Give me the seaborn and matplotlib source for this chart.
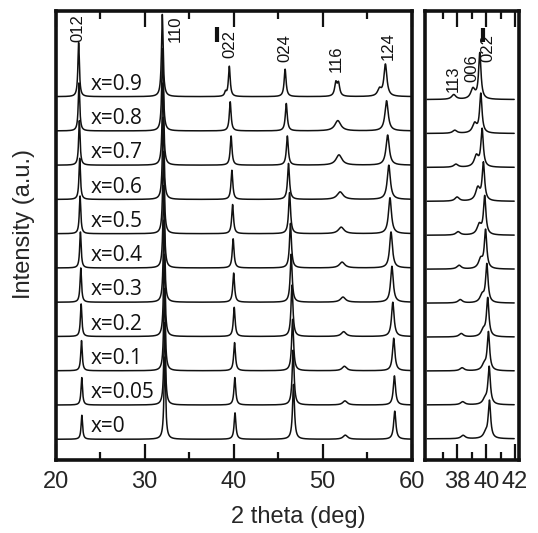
import numpy as np
import pandas as pd
import matplotlib
matplotlib.use("Agg")
import matplotlib.pyplot as plt
import seaborn as sns
from matplotlib.ticker import MultipleLocator, FixedLocator

sns.set_style("ticks")
plt.rcParams["font.family"] = ["Liberation Sans", "DejaVu Sans"]

# ---- samples, bottom to top ----
samples = ["x=0", "x=0.05", "x=0.1", "x=0.2", "x=0.3", "x=0.4",
           "x=0.5", "x=0.6", "x=0.7", "x=0.8", "x=0.9"]

# ---- wide scan (20-60 deg): position (deg), height (stack units), half width (deg) ----
pos_012 = [22.96, 22.95, 22.92, 22.88, 22.84, 22.80, 22.76, 22.72, 22.68, 22.64, 22.60]
h_012 = [0.70, 0.80, 0.88, 0.95, 1.00, 1.05, 1.10, 1.20, 1.30, 1.40, 1.58]
hw_012 = 0.10

pos_110 = [32.28, 32.26, 32.24, 32.22, 32.19, 32.16, 32.13, 32.10, 32.07, 32.03, 32.00]
h_110 = [2.40, 2.40, 2.40, 2.40, 2.40, 2.40, 2.40, 2.40, 2.40, 2.40, 2.40]
hw_110 = 0.11

pos_022 = [40.17, 40.15, 40.12, 40.08, 40.02, 39.96, 39.90, 39.82, 39.73, 39.63, 39.53]
h_022 = [0.77, 0.80, 0.82, 0.85, 0.85, 0.85, 0.85, 0.85, 0.85, 0.85, 0.88]
hw_022 = 0.12

pos_024 = [46.74, 46.70, 46.64, 46.57, 46.48, 46.40, 46.30, 46.18, 46.05, 45.93, 45.80]
h_024 = [1.60, 1.60, 1.50, 1.50, 1.40, 1.30, 1.20, 1.05, 0.85, 0.80, 0.80]
hw_024 = 0.13

pos_116 = [52.56, 52.52, 52.46, 52.38, 52.30, 52.20, 52.10, 51.98, 51.85, 51.72, 51.50]
h_116 = [0.12, 0.12, 0.13, 0.14, 0.15, 0.17, 0.19, 0.22, 0.30, 0.30, 0.38]
hw_116 = [0.30, 0.30, 0.30, 0.32, 0.34, 0.36, 0.38, 0.40, 0.40, 0.40, 0.16]

pos_124 = [58.12, 58.08, 58.00, 57.90, 57.80, 57.70, 57.58, 57.45, 57.32, 57.20, 57.07]
h_124 = [0.82, 0.85, 0.95, 1.00, 1.05, 1.05, 1.05, 1.00, 0.88, 0.88, 0.93]
hw_124 = [0.15, 0.15, 0.16, 0.17, 0.18, 0.19, 0.20, 0.21, 0.22, 0.22, 0.20]

# weak side reflections / split components of individual patterns
side_row = [10, 10, 10]
side_pos = [39.10, 51.80, 56.40]
side_h = [0.12, 0.36, 0.20]
side_hw = [0.12, 0.16, 0.25]

# ---- narrow scan (36-42 deg) ----
zpos_113 = [38.40, 38.37, 38.33, 38.27, 38.20, 38.12, 38.05, 37.98, 37.90, 37.82, 37.75]
zh_113 = [0.10, 0.09, 0.09, 0.10, 0.10, 0.11, 0.10, 0.12, 0.09, 0.09, 0.14]
zpos_006 = [39.95, 39.92, 39.86, 39.80, 39.72, 39.62, 39.52, 39.42, 39.32, 39.20, 39.08]
zh_006 = [0.14, 0.15, 0.17, 0.19, 0.22, 0.28, 0.30, 0.38, 0.33, 0.28, 0.30]
zpos_022 = [40.23, 40.21, 40.16, 40.11, 40.05, 39.96, 39.90, 39.81, 39.72, 39.63, 39.56]
zh_022 = [1.10, 1.10, 1.12, 1.12, 1.12, 1.12, 1.12, 1.10, 1.10, 1.15, 1.35]
zhw_113, zhw_006, zhw_022 = 0.18, 0.18, 0.10

# axis ticks of the narrow scan
narrow_major = [38, 40, 42]
narrow_minor = [37, 39, 41]

# reflection labels (text, position, label base height)
wide_labels = [("012", 22.55, 11.60), ("110", 33.40, 11.60), ("022", 39.55, 11.13),
               ("024", 45.80, 11.01), ("116", 51.55, 10.72), ("124", 57.37, 11.07)]
narrow_labels = [("113", 37.74, 10.23), ("006", 38.98, 10.52), ("022", 40.09, 11.10)]


def lorentz(x, p, h, w):
    return h / (1.0 + ((x - p) / w) ** 2)


def as_list(v, n):
    return v if isinstance(v, list) else [v] * n


n = len(samples)
tt_wide = np.arange(20.0, 60.0001, 0.01)
tt_narrow = np.arange(35.9, 41.95, 0.005)

wide_sets = [(pos_012, h_012, hw_012), (pos_110, h_110, hw_110), (pos_022, h_022, hw_022),
             (pos_024, h_024, hw_024), (pos_116, h_116, hw_116), (pos_124, h_124, hw_124)]
narrow_sets = [(zpos_113, zh_113, zhw_113), (zpos_006, zh_006, zhw_006),
               (zpos_022, zh_022, zhw_022)]

wide_frames, narrow_frames = [], []
for i, s in enumerate(samples):
    yw = np.full_like(tt_wide, float(i))
    for p, h, w in wide_sets:
        yw += lorentz(tt_wide, p[i], h[i], as_list(w, n)[i])
    for r, p, h, w in zip(side_row, side_pos, side_h, side_hw):
        if r == i:
            yw += lorentz(tt_wide, p, h, w)
    wide_frames.append(pd.DataFrame({"tt": tt_wide, "I": yw, "sample": s}))

    yn = np.full_like(tt_narrow, float(i))
    for p, h, w in narrow_sets:
        yn += lorentz(tt_narrow, p[i], h[i], w)
    narrow_frames.append(pd.DataFrame({"tt": tt_narrow, "I": yn, "sample": s}))

wide = pd.concat(wide_frames, ignore_index=True)
narrow = pd.concat(narrow_frames, ignore_index=True)

W, H = 538, 533
fig = plt.figure(figsize=(W / 100, H / 100), dpi=100)
ax1 = fig.add_axes([55.5 / W, 1 - 459.5 / H, 356 / W, 448.5 / H])
ax2 = fig.add_axes([425 / W, 1 - 459.5 / H, 93.5 / W, 448.5 / H])

line_kw = dict(estimator=None, sort=False, legend=False, linewidth=1.1)
sns.lineplot(data=wide, x="tt", y="I", hue="sample", units="sample",
             palette=["#111111"] * n, ax=ax1, **line_kw)
sns.lineplot(data=narrow, x="tt", y="I", hue="sample", units="sample",
             palette=["#111111"] * n, ax=ax2, **line_kw)

ax1.set_xlim(20, 60)
ax1.set_ylim(-0.59, 12.50)
ax2.set_xlim(35.75, 42.25)
ax2.set_ylim(-0.61, 12.61)

ax1.xaxis.set_major_locator(MultipleLocator(10))
ax1.xaxis.set_minor_locator(MultipleLocator(5))
ax2.xaxis.set_major_locator(FixedLocator(narrow_major))
ax2.xaxis.set_minor_locator(FixedLocator(narrow_minor))

for ax in (ax1, ax2):
    ax.tick_params(axis="x", which="both", direction="in", top=True, bottom=True,
                   width=1.6, color="#111111", labelsize=17, pad=8)
    ax.tick_params(axis="x", which="major", length=11.5)
    ax.tick_params(axis="x", which="minor", length=6)
    ax.tick_params(axis="y", left=False, right=False, labelleft=False)
    ax.set_xlabel("")
    ax.set_ylabel("")
    for sp in ax.spines.values():
        sp.set_visible(True)
        sp.set_linewidth(2.6)
        sp.set_color("#111111")

# sample names
for i, s in enumerate(samples):
    ax1.text(23.95, i + 0.36, s, fontsize=15, family=["Open Sans", "DejaVu Sans"],
             ha="left", va="center", color="#111111")

# reflection indices
for txt, xp, yp in wide_labels:
    ax1.text(xp, yp, txt, rotation=90, fontsize=12, ha="center", va="bottom",
             color="#111111")
for txt, xp, yp in narrow_labels:
    ax2.text(xp, yp, txt, rotation=90, fontsize=12, ha="center", va="bottom",
             color="#111111")

# short reference markers near the top
ax1.plot([38.11, 38.11], [11.60, 12.03], color="#111111", lw=3.0, solid_capstyle="butt")
ax2.plot([39.77, 39.77], [11.69, 12.10], color="#111111", lw=3.0, solid_capstyle="butt")

fig.text(298 / W, 1 - 517 / H, "2 theta (deg)", fontsize=17, ha="center", va="center")
fig.text(24 / W, 1 - 224 / H, "Intensity (a.u.)", fontsize=17, rotation=90,
         ha="center", va="center")

fig.savefig("out.png", dpi=100)
